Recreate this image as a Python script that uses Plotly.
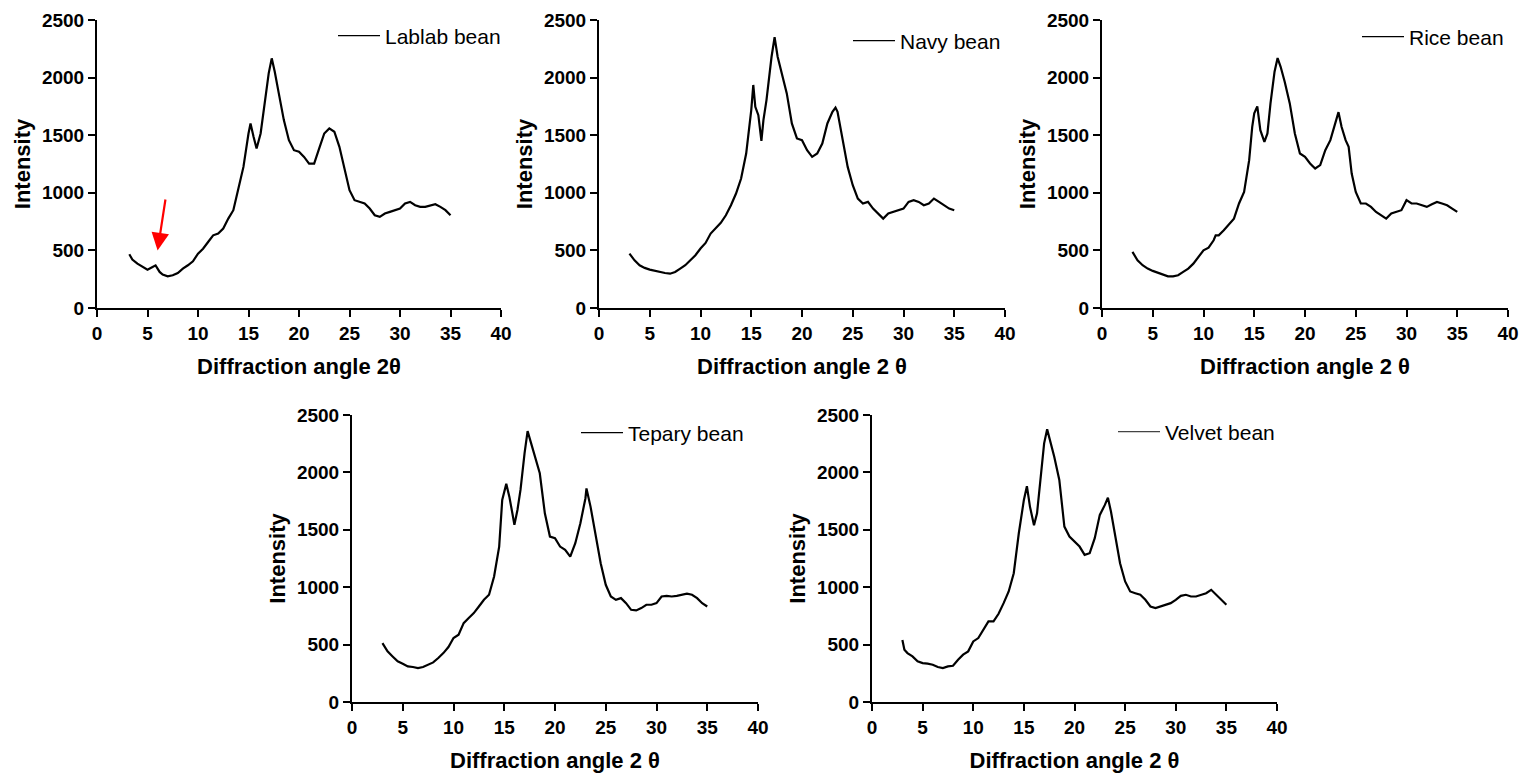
import plotly.graph_objects as go

# ---------------- data ----------------
names = ["Lablab bean", "Navy bean", "Rice bean", "Tepary bean", "Velvet bean"]

lablab_x = [3.2, 3.5, 4, 4.5, 5, 5.5, 5.8, 6.2, 6.5, 7, 7.5, 8, 8.5, 9, 9.5, 10, 10.5, 11, 11.5, 12,
            12.5, 13, 13.5, 14, 14.5, 15, 15.2, 15.5, 15.8, 16.2, 16.5, 17, 17.3, 17.6, 18, 18.5, 19, 19.5, 20, 20.5,
            21, 21.5, 22, 22.5, 23, 23.5, 24, 24.5, 25, 25.5, 26, 26.5, 27, 27.5, 28, 28.5, 29, 29.5, 30, 30.5,
            31, 31.5, 32, 32.5, 33, 33.5, 34, 34.5, 35]
lablab_y = [466, 420, 385, 356, 333, 356, 370, 313, 290, 275, 284, 304, 342, 371, 405, 472, 515, 573, 631, 646,
            690, 776, 849, 1037, 1225, 1515, 1602, 1486, 1385, 1515, 1718, 2037, 2167, 2051, 1863, 1631, 1457, 1370, 1356, 1312,
            1254, 1254, 1385, 1515, 1559, 1530, 1399, 1196, 1023, 936, 921, 907, 863, 805, 791, 820, 834, 849, 863, 907,
            921, 892, 878, 878, 892, 901, 878, 849, 805]

navy_x = [3, 3.5, 4, 4.5, 5, 5.5, 6, 6.5, 7, 7.5, 8, 8.5, 9, 9.5, 10, 10.5, 11, 11.5, 12, 12.5,
          13, 13.5, 14, 14.5, 15, 15.2, 15.4, 15.7, 16.0, 16.2, 16.5, 17, 17.3, 17.6, 18, 18.5, 19, 19.5, 20, 20.5,
          21, 21.5, 22, 22.5, 23, 23.3, 23.5, 24, 24.5, 25, 25.5, 26, 26.5, 27, 27.5, 28, 28.5, 29, 29.5, 30,
          30.5, 31, 31.5, 32, 32.5, 33, 33.5, 34, 34.5, 35]
navy_y = [472, 414, 371, 348, 333, 322, 313, 304, 298, 313, 342, 371, 414, 458, 516, 565, 646, 695, 739, 805,
          892, 994, 1124, 1341, 1718, 1936, 1747, 1674, 1450, 1631, 1805, 2181, 2350, 2181, 2037, 1863, 1602, 1472, 1457, 1370,
          1312, 1341, 1428, 1602, 1703, 1740, 1703, 1457, 1225, 1066, 950, 907, 921, 863, 820, 776, 820, 834, 849, 863,
          921, 936, 921, 892, 907, 950, 921, 892, 863, 849]

rice_x = [3, 3.5, 4, 4.5, 5, 5.5, 6, 6.5, 7, 7.5, 8, 8.5, 9, 9.5, 10, 10.5, 11, 11.2, 11.5, 12,
          12.5, 13, 13.5, 14, 14.5, 14.8, 15, 15.3, 15.6, 16, 16.3, 16.6, 17, 17.3, 17.6, 18, 18.5, 19, 19.5, 20,
          20.5, 21, 21.5, 22, 22.5, 23, 23.3, 23.6, 24, 24.3, 24.6, 25, 25.5, 26, 26.5, 27, 27.5, 28, 28.5, 29,
          29.5, 30, 30.5, 31, 31.5, 32, 32.5, 33, 33.5, 34, 34.5, 35]
rice_y = [487, 414, 371, 342, 322, 304, 293, 275, 275, 284, 313, 342, 385, 443, 501, 524, 588, 631, 631, 675,
          727, 776, 907, 1008, 1283, 1573, 1689, 1750, 1544, 1443, 1515, 1776, 2051, 2170, 2094, 1964, 1776, 1515, 1341, 1312,
          1254, 1211, 1240, 1370, 1457, 1602, 1700, 1573, 1457, 1399, 1167, 1008, 907, 907, 878, 834, 805, 776, 820, 834,
          849, 936, 907, 907, 892, 878, 901, 921, 907, 892, 863, 834]

tepary_x = [3, 3.5, 4, 4.5, 5, 5.5, 6, 6.5, 7, 7.5, 8, 8.5, 9, 9.5, 10, 10.5, 11, 11.5, 12, 12.5,
            13, 13.5, 14, 14.5, 14.8, 15.2, 15.5, 15.8, 16, 16.3, 16.6, 17, 17.3, 17.6, 18, 18.5, 19, 19.5, 20, 20.5,
            21, 21.5, 22, 22.5, 23, 23.1, 23.5, 24, 24.5, 25, 25.5, 26, 26.5, 27, 27.5, 28, 28.5, 29, 29.5, 30,
            30.5, 31, 31.5, 32, 32.5, 33, 33.5, 34, 34.5, 35]
tepary_y = [513, 441, 397, 354, 334, 310, 305, 296, 305, 325, 345, 383, 426, 479, 557, 586, 687, 731, 774, 832,
            890, 934, 1093, 1354, 1760, 1900, 1789, 1644, 1543, 1673, 1847, 2166, 2360, 2268, 2137, 1992, 1644, 1441, 1427, 1354,
            1325, 1267, 1383, 1557, 1775, 1860, 1702, 1470, 1209, 1021, 919, 890, 905, 861, 803, 798, 818, 847, 847, 861,
            919, 925, 919, 925, 934, 943, 934, 905, 861, 832]

velvet_x = [3, 3.2, 3.5, 4, 4.5, 5, 5.5, 6, 6.5, 7, 7.5, 8, 8.5, 9, 9.5, 10, 10.5, 11, 11.5, 12,
            12.5, 13, 13.5, 14, 14.5, 15, 15.3, 15.6, 16, 16.3, 16.6, 17, 17.3, 17.6, 18, 18.5, 19, 19.5, 20, 20.5,
            21, 21.5, 22, 22.5, 23, 23.3, 23.6, 24, 24.5, 25, 25.5, 26, 26.5, 27, 27.5, 28, 28.5, 29, 29.5, 30,
            30.5, 31, 31.5, 32, 32.5, 33, 33.5, 34, 34.5, 35]
velvet_y = [540, 455, 426, 397, 354, 339, 334, 325, 305, 296, 310, 316, 368, 412, 441, 528, 557, 629, 702, 702,
            768, 861, 963, 1122, 1470, 1760, 1880, 1702, 1540, 1644, 1934, 2253, 2375, 2282, 2137, 1934, 1528, 1441, 1398, 1354,
            1282, 1296, 1427, 1630, 1717, 1780, 1659, 1441, 1209, 1050, 963, 948, 934, 890, 832, 818, 832, 847, 861, 890,
            925, 934, 919, 919, 934, 948, 977, 934, 890, 847]

x_titles = ["Diffraction angle 2θ", "Diffraction angle 2 θ", "Diffraction angle 2 θ",
            "Diffraction angle 2 θ", "Diffraction angle 2 θ"]
y_title = "Intensity"
x_ticks = [0, 5, 10, 15, 20, 25, 30, 35, 40]
y_ticks = [0, 500, 1000, 1500, 2000, 2500]

# arrow marking the small peak in the Lablab pattern (data coordinates)
arrow_tail = (6.8, 955)
arrow_head = (6.0, 500)

series = [(lablab_x, lablab_y), (navy_x, navy_y), (rice_x, rice_y),
          (tepary_x, tepary_y), (velvet_x, velvet_y)]

# ---------------- layout geometry (pixels) ----------------
W, H = 1522, 777
panels_px = [  # left, right, top, bottom of each plot area
    (97, 501, 20, 308),
    (599, 1005, 20, 308),
    (1102, 1508, 20, 308),
    (352, 758, 415, 702),
    (872, 1277, 415, 702),
]
legend_px = [(338, 36), (853, 41), (1362, 37), (581, 433), (1118, 432)]
legend_line_colors = ["black", "black", "black", "black", "#444444"]

FONT = "Liberation Sans, Arial, sans-serif"

fig = go.Figure()
layout = dict(
    width=W, height=H,
    margin=dict(l=0, r=0, t=0, b=0, autoexpand=False),
    paper_bgcolor="white", plot_bgcolor="white",
    font=dict(family=FONT, color="black"),
    annotations=[],
)

for i, ((xs, ys), name) in enumerate(zip(series, names)):
    n = i + 1
    sfx = "" if n == 1 else str(n)
    leg = "legend" if n == 1 else f"legend{n}"
    # the measured pattern (drawn thick, like the noisy band in the original)
    fig.add_trace(go.Scatter(
        x=xs, y=ys, mode="lines", name=name, legendgroup=name,
        line=dict(color="black", width=2.2),
        xaxis=f"x{sfx}", yaxis=f"y{sfx}", legend=leg, showlegend=False,
    ))
    # legend entry with the thin key line of the original
    fig.add_trace(go.Scatter(
        x=[None], y=[None], mode="lines", name=name, legendgroup=name,
        line=dict(color=legend_line_colors[i], width=1.2),
        xaxis=f"x{sfx}", yaxis=f"y{sfx}", legend=leg, showlegend=True,
        hoverinfo="skip",
    ))
    l, r, t, b = panels_px[i]
    axis_common = dict(
        showline=True, linecolor="black", linewidth=2,
        ticks="outside", ticklen=7, tickwidth=2, tickcolor="black",
        showgrid=False, zeroline=False, mirror=False, automargin=False,
        tickfont=dict(family=FONT, size=19, color="black", weight="bold"),
        fixedrange=True,
    )
    layout[f"xaxis{sfx}"] = dict(
        axis_common, domain=[l / W, r / W], anchor=f"y{sfx}",
        range=[0, 40], tickmode="array", tickvals=x_ticks,
        title=dict(text=x_titles[i], font=dict(family=FONT, size=22, weight="bold"), standoff=16),
    )
    layout[f"yaxis{sfx}"] = dict(
        axis_common, domain=[1 - b / H, 1 - t / H], anchor=f"x{sfx}",
        range=[0, 2500], tickmode="array", tickvals=y_ticks,
        title=dict(text=y_title, font=dict(family=FONT, size=22, weight="bold"), standoff=5),
    )
    lx, ly = legend_px[i]
    layout[leg] = dict(
        x=(lx - 5) / W, y=1 - ly / H, xanchor="left", yanchor="middle",
        xref="paper", yref="paper",
        bgcolor="rgba(0,0,0,0)", borderwidth=0,
        font=dict(family=FONT, size=21, color="black"),
        itemwidth=42, itemclick=False, itemdoubleclick=False,
    )

layout["annotations"].append(dict(
    x=arrow_head[0], y=arrow_head[1], ax=arrow_tail[0], ay=arrow_tail[1],
    xref="x", yref="y", axref="x", ayref="y",
    showarrow=True, arrowhead=2, arrowsize=1.6, arrowwidth=2.2, arrowcolor="red", text="",
))

fig.update_layout(**layout)
fig.write_html("out.html")
